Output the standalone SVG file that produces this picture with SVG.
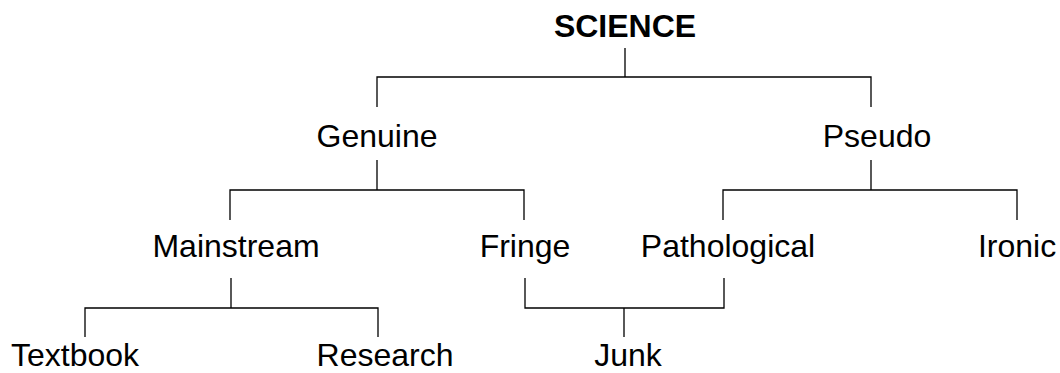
<svg xmlns="http://www.w3.org/2000/svg" width="1060" height="373" viewBox="0 0 1060 373">
<style>
text{font-family:"Liberation Sans",Arial,sans-serif;font-size:32px;fill:#000;text-anchor:middle}
.b{font-weight:bold}
.c{stroke:#000;stroke-width:1.3;fill:none}
</style>
<rect width="1060" height="373" fill="#fff"/>
<g id="connectors" class="c">
<path d="M625,48V77M377,107V77H871V107"/>
<path d="M377,160V190M230,220V190H524V220"/>
<path d="M871,160V190M723,220V190H1017V220"/>
<path d="M231,278V308M85,337V308H378V337"/>
<path d="M525,278V308H724V278M624,308V337"/>
</g>
<g id="science"><text class="b" x="625" y="37">SCIENCE</text></g>
<g id="genuine"><text x="377" y="147">Genuine</text></g>
<g id="pseudo"><text x="877" y="147">Pseudo</text></g>
<g id="mainstream"><text x="236" y="257">Mainstream</text></g>
<g id="fringe"><text x="525" y="257">Fringe</text></g>
<g id="pathological"><text x="728" y="257">Pathological</text></g>
<g id="ironic"><text x="1017" y="257">Ironic</text></g>
<g id="textbook"><text x="75" y="366">Textbook</text></g>
<g id="research"><text x="385" y="366">Research</text></g>
<g id="junk"><text x="628" y="366">Junk</text></g>
</svg>
